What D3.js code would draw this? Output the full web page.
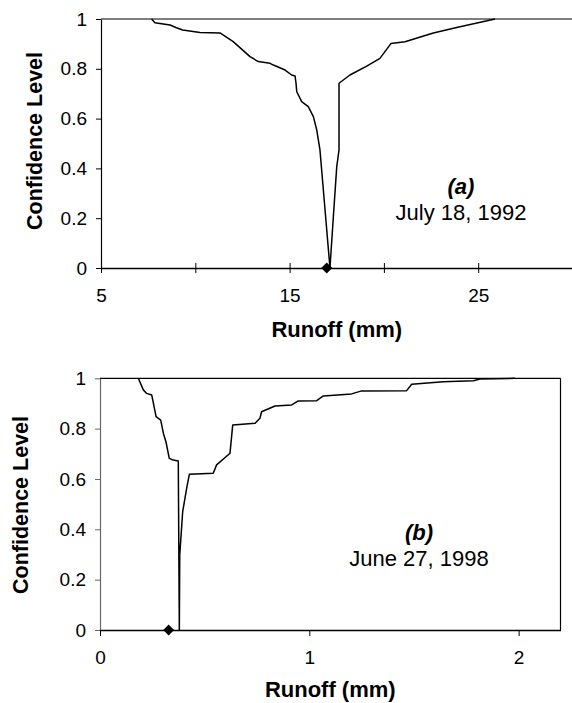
<!DOCTYPE html>
<html>
<head>
<meta charset="utf-8">
<script src="https://cdn.jsdelivr.net/npm/d3@7"></script>
<style>
  body { margin: 0; background: #fff; }
  svg { display: block; font-family: 'Liberation Sans', Arial, sans-serif; }
</style>
</head>
<body>
<svg id="chart" width="572" height="703"></svg>
<script>
// (a) July 18, 1992 - runoff (mm) vs confidence level
const runoffA = [7.68, 7.86, 8.66, 9.0, 9.33, 10.25, 11.31, 12.01, 12.9, 13.34,
  13.96, 14.14, 14.76, 15.11, 15.29, 15.34, 15.38, 15.64, 15.99, 16.26,
  16.44, 16.61, 16.88, 17.14, 17.32, 17.50, 17.62, 17.62, 18.20, 19.09,
  19.79, 20.38, 21.12, 22.62, 23.86, 25.89];
const confA = [1, .985, .976, .965, .956, .946, .944, .909, .849, .829,
  .822, .815, .795, .775, .771, .742, .708, .668, .648, .608,
  .554, .474, .233, 0, .206, .407, .474, .742, .775, .811,
  .842, .902, .909, .944, .966, 1];
const observedA = 16.97;

// (b) June 27, 1998
const runoffB = [.183, .207, .223, .247, .268, .290, .303, .315, .331, .350,
  .374, .379, .381, .395, .414, .427, .541, .557, .621, .634,
  .741, .764, .772, .836, .916, .947, 1.035, 1.067, 1.202, 1.250,
  1.465, 1.489, 1.640, 1.784, 1.816, 1.983];
const confB = [1, .954, .940, .934, .848, .834, .781, .748, .682, .675,
  .671, 0, .298, .470, .563, .619, .623, .656, .702, .814,
  .821, .841, .867, .890, .894, .910, .911, .930, .938, .950,
  .951, .976, .986, .990, .997, 1];
const observedB = 0.328;

const yTicks = [0, 0.2, 0.4, 0.6, 0.8, 1];
const xTicksA = [5, 10, 15, 20, 25, 30];
const xLabelsA = [5, 15, 25];
const xTicksB = [0, 1, 2];
const xLabelsB = [0, 1, 2];

const svg = d3.select('#chart');

function drawPanel(cfg) {
  const x = d3.scaleLinear().domain(cfg.xDomain).range([cfg.left, cfg.right]);
  const y = d3.scaleLinear().domain([0, 1]).range([cfg.bottom, cfg.top]);
  const g = svg.append('g');

  // top border (and right border when boxed)
  g.append('line')
    .attr('x1', cfg.left).attr('x2', cfg.right)
    .attr('y1', y(1)).attr('y2', y(1))
    .attr('stroke', '#000').attr('stroke-width', 1.2);
  if (cfg.box) {
    g.append('line')
      .attr('x1', cfg.right).attr('x2', cfg.right)
      .attr('y1', y(1)).attr('y2', y(0))
      .attr('stroke', '#000').attr('stroke-width', 1.2);
  }

  // y axis
  const yAxis = g.append('g')
    .attr('transform', `translate(${cfg.left},0)`)
    .call(d3.axisLeft(y).tickValues(yTicks).tickSize(5).tickSizeOuter(0)
      .tickPadding(9).tickFormat(d3.format('~g')));
  yAxis.select('.domain').attr('stroke', cfg.yAxisColor).attr('stroke-width', 1.2);
  yAxis.selectAll('.tick line').attr('stroke', cfg.yAxisColor);
  yAxis.selectAll('text')
    .attr('font-size', 19).attr('fill', '#000')
    .attr('font-family', "'Liberation Sans', Arial, sans-serif");

  // x axis
  const xAxis = g.append('g')
    .attr('transform', `translate(0,${cfg.bottom})`)
    .call(d3.axisBottom(x).tickValues(cfg.xTicks).tickSize(6).tickSizeOuter(0)
      .tickFormat(d => cfg.xLabels.includes(d) ? d : ''));
  xAxis.select('.domain').attr('stroke', '#000').attr('stroke-width', 1.4);
  xAxis.selectAll('.tick line').attr('stroke', '#000')
    .attr('y1', cfg.crossTicks ? -5 : 0).attr('y2', cfg.crossTicks ? 5 : 6);
  xAxis.selectAll('text')
    .attr('dy', null).attr('y', 33.5)
    .attr('font-size', 19).attr('fill', '#000')
    .attr('font-family', "'Liberation Sans', Arial, sans-serif");

  // confidence curve
  const pts = cfg.runoff.map((r, i) => [r, cfg.conf[i]]);
  g.append('path')
    .datum(pts)
    .attr('fill', 'none')
    .attr('stroke', '#000')
    .attr('stroke-width', 1.5)
    .attr('stroke-linejoin', 'round')
    .attr('d', d3.line().x(d => x(d[0])).y(d => y(d[1])));

  // observed runoff marker
  g.append('path')
    .attr('d', d3.symbol(d3.symbolSquare, 60)())
    .attr('transform', `translate(${x(cfg.observed)},${y(0)}) rotate(45)`)
    .attr('fill', '#000');

  // axis titles
  g.append('text')
    .attr('x', (cfg.left + cfg.right) / 2)
    .attr('y', cfg.xTitleY)
    .attr('text-anchor', 'middle')
    .attr('font-size', 22).attr('font-weight', 'bold')
    .text('Runoff (mm)');
  g.append('text')
    .attr('transform', `translate(${cfg.yTitleX},${cfg.yTitleCY}) rotate(-90)`)
    .attr('text-anchor', 'middle')
    .attr('font-size', 21.5).attr('font-weight', 'bold')
    .text('Confidence Level');

  // panel annotation
  g.append('text')
    .attr('x', cfg.noteX).attr('y', cfg.noteY)
    .attr('text-anchor', 'middle')
    .attr('font-size', 22).attr('font-weight', 'bold').attr('font-style', 'italic')
    .text(cfg.tag);
  g.append('text')
    .attr('x', cfg.noteX).attr('y', cfg.noteY + 26)
    .attr('text-anchor', 'middle')
    .attr('font-size', 22)
    .text(cfg.date);
}

drawPanel({
  runoff: runoffA, conf: confA, observed: observedA,
  xDomain: [5, 30], xTicks: xTicksA, xLabels: xLabelsA,
  left: 101, right: 572.5, top: 19, bottom: 268,
  crossTicks: true, box: false, yAxisColor: '#000',
  xTitleY: 337, yTitleX: 41.5, yTitleCY: 141,
  noteX: 461, noteY: 194, tag: '(a)', date: 'July 18, 1992'
});

drawPanel({
  runoff: runoffB, conf: confB, observed: observedB,
  xDomain: [0, 2.2], xTicks: xTicksB, xLabels: xLabelsB,
  left: 100, right: 560.5, top: 378.3, bottom: 630,
  crossTicks: false, box: true, yAxisColor: '#666',
  xTitleY: 697, yTitleX: 28.3, yTitleCY: 505,
  noteX: 419, noteY: 540, tag: '(b)', date: 'June 27, 1998'
});
</script>
</body>
</html>
